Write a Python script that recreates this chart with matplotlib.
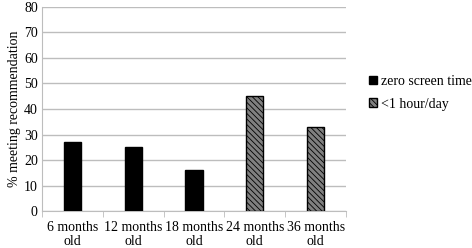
import matplotlib.pyplot as plt
import numpy as np

plt.rcParams['font.family'] = ['Liberation Serif', 'DejaVu Serif']
plt.rcParams['hatch.linewidth'] = 0.6

categories = ['6 months\nold', '12 months\nold', '18 months\nold', '24 months\nold', '36 months\nold']
zero_screen = [27, 25, 16, np.nan, np.nan]
under_1h = [np.nan, np.nan, np.nan, 45, 33]

fig = plt.figure(figsize=(4.72, 2.48), dpi=100)
ax = fig.add_axes([0.089, 0.149, 0.644, 0.823])

x = np.arange(len(categories))
w = 0.28
ax.bar(x, zero_screen, w, color='black', edgecolor='black', label='zero screen time', zorder=3)
ax.bar(x, under_1h, w, color='#808080', edgecolor='black', hatch='\\\\\\\\\\\\',
       linewidth=1, label='<1 hour/day', zorder=3)

ax.set_xlim(-0.5, len(categories) - 0.5)
ax.set_ylim(0, 80)
ax.set_yticks(range(0, 81, 10))
ax.yaxis.grid(True, color='#bdbdbd', linewidth=1, zorder=0)
ax.set_xticks(x)
ax.set_xticklabels(categories, fontsize=10, linespacing=1.1)
ax.set_xticks(np.arange(-0.5, len(categories)), minor=True)
ax.tick_params(axis='x', which='major', length=0, pad=7)
ax.tick_params(axis='x', which='minor', length=4, color='#bdbdbd', direction='out')
ax.tick_params(axis='y', length=0, labelsize=10, pad=3)
for s in ['top', 'right']:
    ax.spines[s].set_visible(False)
ax.spines['left'].set_color('#bdbdbd')
ax.spines['bottom'].set_color('#bdbdbd')
ax.set_ylabel('% meeting recommendation', fontsize=10, labelpad=2)

ax.legend(loc='center left', bbox_to_anchor=(1.035, 0.58), frameon=False, fontsize=10,
          handlelength=0.55, handleheight=0.55, handletextpad=0.3, labelspacing=0.7)

fig.savefig('out.png', dpi=100)
